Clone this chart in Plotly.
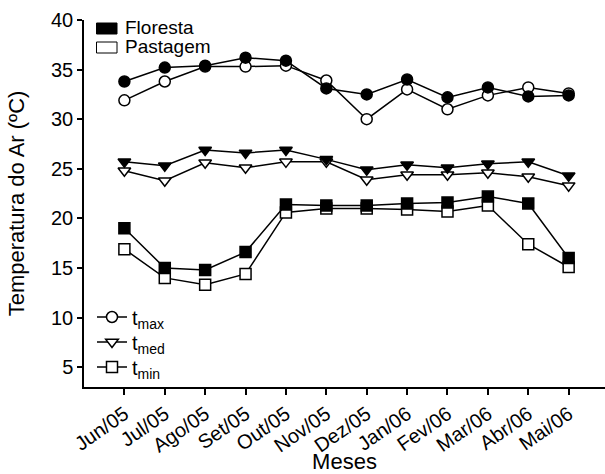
import plotly.graph_objects as go

months = ["Jun/05", "Jul/05", "Ago/05", "Set/05", "Out/05", "Nov/05",
          "Dez/05", "Jan/06", "Fev/06", "Mar/06", "Abr/06", "Mai/06"]

tmax_floresta = [33.8, 35.2, 35.4, 36.2, 35.9, 33.1, 32.5, 34.0, 32.2, 33.2, 32.3, 32.4]
tmax_pastagem = [31.9, 33.8, 35.3, 35.3, 35.4, 33.9, 30.0, 33.0, 31.0, 32.4, 33.2, 32.6]
tmed_floresta = [25.7, 25.3, 26.9, 26.6, 26.9, 25.95, 24.9, 25.4, 25.1, 25.5, 25.7, 24.3]
tmed_pastagem = [24.8, 23.8, 25.6, 25.1, 25.7, 25.7, 23.9, 24.4, 24.4, 24.6, 24.2, 23.3]
tmin_floresta = [19.0, 15.0, 14.8, 16.6, 21.4, 21.3, 21.3, 21.5, 21.6, 22.2, 21.5, 16.0]
tmin_pastagem = [16.9, 14.0, 13.3, 14.4, 20.6, 21.0, 21.0, 20.9, 20.7, 21.3, 17.4, 15.1]

legend_groups = ["Floresta", "Pastagem"]
var_labels = ["t<sub>max</sub>", "t<sub>med</sub>", "t<sub>min</sub>"]

FONT = "Liberation Sans, Arial, sans-serif"
fig = go.Figure()

series = [
    (tmax_pastagem, "circle", "white"),
    (tmax_floresta, "circle", "black"),
    (tmed_pastagem, "triangle-down", "white"),
    (tmed_floresta, "triangle-down", "black"),
    (tmin_pastagem, "square", "white"),
    (tmin_floresta, "square", "black"),
]
for vals, sym, fill in series:
    fig.add_trace(go.Scatter(
        x=months, y=vals, mode="lines+markers", showlegend=False,
        line=dict(color="black", width=1.5),
        marker=dict(symbol=sym, size=11, color=fill,
                    line=dict(color="black", width=1.5)),
    ))

legend_ids = ["legend", "legend2", "legend3"]
for lab, sym, lid in zip(var_labels, ["circle", "triangle-down", "square"], legend_ids):
    fig.add_trace(go.Scatter(
        x=[None], y=[None], mode="lines+markers", name=lab, legend=lid,
        line=dict(color="black", width=1.5),
        marker=dict(symbol=sym, size=11, color="white",
                    line=dict(color="black", width=1.5)),
    ))

# Top legend (Floresta / Pastagem) drawn with shapes + text
W, H = 605, 474
L, R, T, B = 84, 0, 20, 87
pw, ph = W - L - R, H - T - B
def px(xp):
    return (xp - L) / pw
def py(yp):
    return 1 - (yp - T) / ph

for i, (name, fill) in enumerate(zip(legend_groups, ["black", "white"])):
    y0 = 23 + i * 19
    fig.add_shape(type="rect", xref="paper", yref="paper",
                  x0=px(96.5), x1=px(117), y0=py(y0 + 11), y1=py(y0),
                  fillcolor=fill, line=dict(color="black", width=1))
    fig.add_annotation(xref="paper", yref="paper", x=px(123), y=py(y0 + 5),
                       text=name, showarrow=False, xanchor="left", yanchor="middle",
                       font=dict(family=FONT, size=19, color="black"))

legend_common = dict(xanchor="left", yanchor="middle", bgcolor="rgba(0,0,0,0)",
                     borderwidth=0, font=dict(family=FONT, size=20), itemwidth=30)
legend_y = [317, 342, 367]

fig.update_layout(
    width=W, height=H,
    margin=dict(l=L, r=R, t=T, b=B, autoexpand=False),
    plot_bgcolor="white", paper_bgcolor="white",
    font=dict(family=FONT, size=19, color="black"),
    legend=dict(x=px(92), y=py(legend_y[0]), **legend_common),
    legend2=dict(x=px(92), y=py(legend_y[1]), **legend_common),
    legend3=dict(x=px(92), y=py(legend_y[2]), **legend_common),
    xaxis=dict(type="category", range=[-1, 11.9], showline=True, linecolor="black",
               linewidth=1.5, ticks="outside", ticklen=6, tickwidth=1.5,
               tickcolor="black", showgrid=False, zeroline=False, tickangle=-35,
               tickfont=dict(family=FONT, size=20),
               title=dict(text="Meses", font=dict(family=FONT, size=22), standoff=10)),
    yaxis=dict(range=[3, 40], tickvals=[5, 10, 15, 20, 25, 30, 35, 40],
               showline=True, linecolor="black", linewidth=1.5, ticks="outside",
               ticklen=5, tickwidth=1.5, tickcolor="black", showgrid=False,
               zeroline=False, tickfont=dict(family=FONT, size=20),
               title=dict(text="Temperatura do Ar (ºC)",
                          font=dict(family=FONT, size=22), standoff=20)),
)

fig.write_html("out.html")
